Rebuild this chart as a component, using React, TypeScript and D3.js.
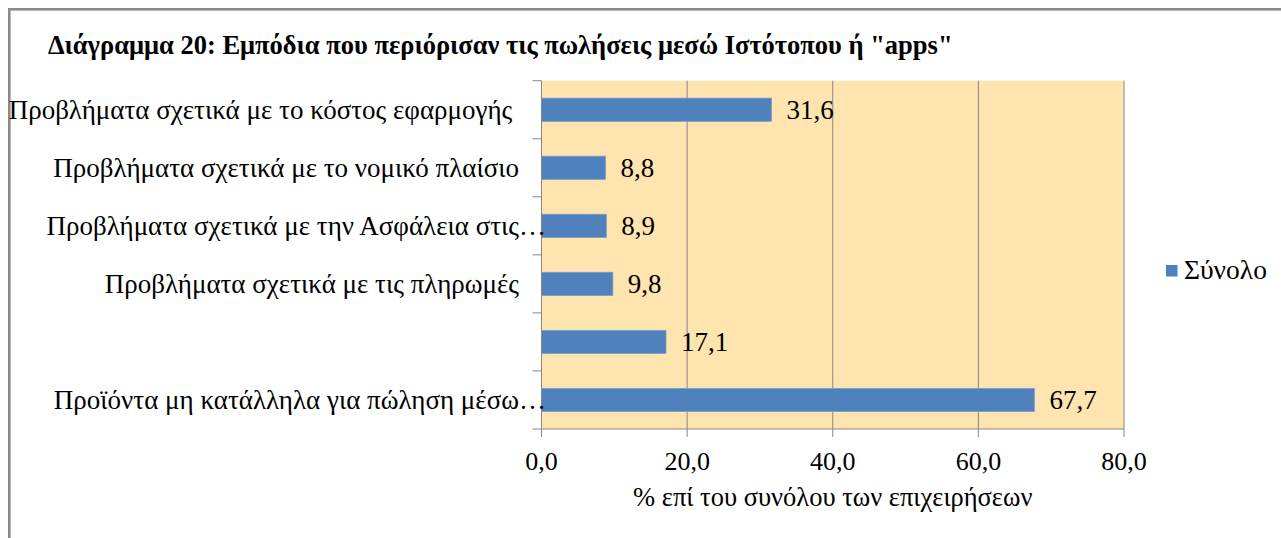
import * as d3 from "d3";

const categories: string[] = [
  "Προβλήματα σχετικά με το κόστος εφαρμογής ",
  "Προβλήματα σχετικά με το νομικό πλαίσιο",
  "Προβλήματα σχετικά με την Ασφάλεια στις",
  "Προβλήματα σχετικά με τις πληρωμές",
  "",
  "Προϊόντα μη κατάλληλα για πώληση μέσω",
];
const truncated: boolean[] = [false, false, true, false, false, true];
const values: number[] = [31.6, 8.8, 8.9, 9.8, 17.1, 67.7];
const xTicks: number[] = [0, 20, 40, 60, 80];
const seriesName = "Σύνολο";
const title = 'Διάγραμμα 20: Εμπόδια που περιόρισαν τις πωλήσεις μεσώ Ιστότοπου ή "apps"';
const xTitle = "% επί του συνόλου των επιχειρήσεων";

const W = 1281;
const H = 538;
const plot = { left: 541.5, right: 1124, top: 80.7, bottom: 429 };
const font = "'Liberation Serif', 'Times New Roman', serif";
const fmt = (v: number) => v.toFixed(1).replace(".", ",");

export default function App() {
  const x = d3.scaleLinear().domain([0, 80]).range([plot.left, plot.right]);
  const y = d3
    .scaleBand<number>()
    .domain(d3.range(categories.length))
    .range([plot.top, plot.bottom])
    .paddingInner(0.6)
    .paddingOuter(0.3);
  const step = y.step();
  const bounds = d3.range(categories.length + 1).map((i) => plot.top + i * step);
  const mid = (i: number) => y(i)! + y.bandwidth() / 2;

  return (
    <svg
      width={W}
      height={H}
      style={{ position: "absolute", left: 0, top: 0, background: "#fff" }}
      fontFamily={font}
    >
      {/* chart frame */}
      <rect x={9.3} y={9.3} width={W + 20} height={H + 20} fill="none" stroke="#8a8a8a" strokeWidth={2.6} />

      <text x={48} y={54} fontSize={26.5} fontWeight="bold" fill="#000">
        {title}
      </text>

      {/* plot area */}
      <rect x={plot.left} y={plot.top} width={plot.right - plot.left} height={plot.bottom - plot.top} fill="#FFE4AF" />
      {xTicks.slice(1).map((t) => (
        <line key={t} x1={x(t)} x2={x(t)} y1={plot.top} y2={plot.bottom} stroke="#868686" strokeWidth={1} />
      ))}

      {/* bars */}
      {values.map((v, i) => (
        <g key={i}>
          <rect
            x={x(0)}
            y={y(i)!}
            width={x(v) - x(0)}
            height={y.bandwidth()}
            fill="#4F81BD"
            stroke="#7a9fcf"
            strokeWidth={0.8}
          />
          <text x={x(v) + 15} y={mid(i) + 9} fontSize={27} fill="#000">
            {fmt(v)}
          </text>
        </g>
      ))}

      {/* y axis */}
      <line x1={plot.left} x2={plot.left} y1={plot.top} y2={plot.bottom} stroke="#868686" />
      {bounds.map((b, i) => (
        <line key={i} x1={plot.left - 9} x2={plot.left} y1={b} y2={b} stroke="#868686" />
      ))}
      {categories.map((c, i) => (
        <g key={i}>
          <text x={519} y={mid(i) + 9} fontSize={27} textAnchor="end" fill="#000" style={{ whiteSpace: "pre" }}>
            {c}
          </text>
          {truncated[i] && (
            <text x={519} y={mid(i) + 9} fontSize={27} fill="#000">
              …
            </text>
          )}
        </g>
      ))}

      {/* x axis */}
      <line x1={plot.left} x2={plot.right} y1={plot.bottom} y2={plot.bottom} stroke="#868686" />
      {xTicks.map((t) => (
        <g key={t}>
          <line x1={x(t)} x2={x(t)} y1={plot.bottom} y2={plot.bottom + 8} stroke="#868686" />
          <text x={x(t)} y={470} fontSize={26} textAnchor="middle" fill="#000">
            {fmt(t)}
          </text>
        </g>
      ))}
      <text x={(plot.left + plot.right) / 2} y={506} fontSize={26.5} textAnchor="middle" fill="#000">
        {xTitle}
      </text>

      {/* legend */}
      <rect x={1166} y={265} width={11.5} height={11.5} fill="#4F81BD" />
      <text x={1184} y={279} fontSize={27.5} fill="#000">
        {seriesName}
      </text>
    </svg>
  );
}
